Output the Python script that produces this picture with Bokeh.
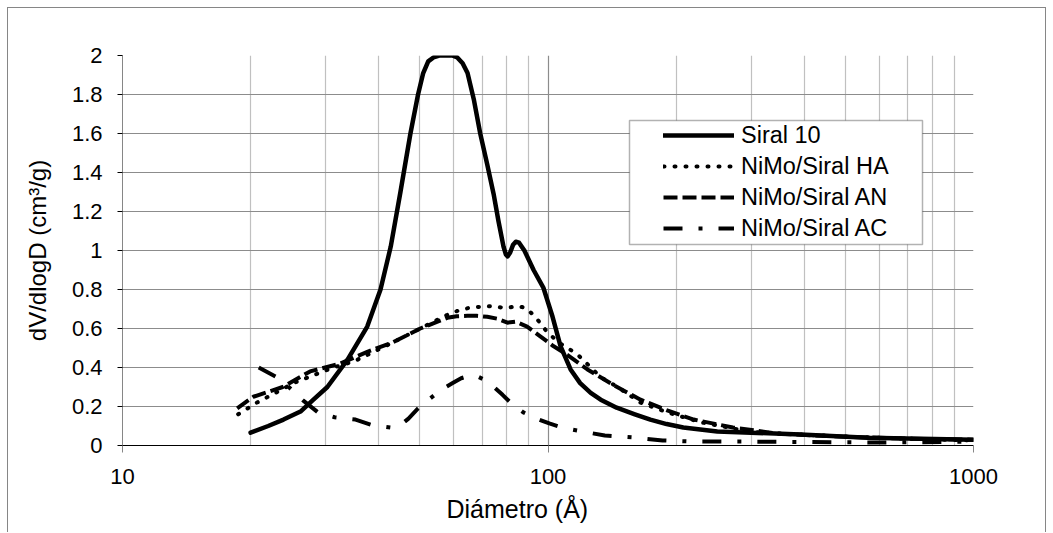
from bokeh.plotting import figure
from bokeh.models import FixedTicker, Legend, LegendItem, BoxAnnotation, Range1d, Title
from bokeh.embed import file_html
from bokeh.resources import INLINE

# ---- data ----
siral_d = [20, 22, 23.9, 26.2, 28.1, 30.3, 33.8, 37.6, 40.4, 42.7, 45, 47.5, 49.5, 50.9, 52.3,
           53.8, 55.5, 57.5, 59.5, 61.2, 63, 64.7, 67, 69.3, 72, 74.5, 76.5, 78.6, 79.6, 80.4,
           81.5, 82.8, 84, 85.5, 88, 92.5, 97.5, 102.5, 107, 113, 119, 126, 133, 145, 160,
           174, 190, 208, 250, 300, 392, 564, 1000]
siral_v = [0.066, 0.10, 0.133, 0.174, 0.235, 0.30, 0.44, 0.61, 0.80, 1.02, 1.30, 1.60, 1.80, 1.91, 1.97,
           1.99, 2.0, 2.0, 2.0, 1.99, 1.96, 1.91, 1.77, 1.60, 1.44, 1.29, 1.15, 1.02, 0.98, 0.97,
           0.99, 1.03, 1.045, 1.04, 1.0, 0.90, 0.81, 0.66, 0.51, 0.39, 0.32, 0.27, 0.235, 0.194, 0.16,
           0.133, 0.11, 0.092, 0.072, 0.066, 0.056, 0.04, 0.03]

ha_d = [18.7, 20.7, 22.9, 25.2, 28.1, 31.3, 34.9, 38.9, 43.3, 50.1, 55, 58, 61.2, 65, 68.2, 72,
        76, 80, 84.4, 87, 89.3, 93.3, 96.5, 99.7, 104, 108.9, 113, 117.5, 124.8, 133, 145.6, 165,
        190.6, 228, 299, 392, 500, 700, 1000]
ha_v = [0.16, 0.22, 0.27, 0.32, 0.36, 0.40, 0.43, 0.48, 0.53, 0.60, 0.645, 0.67, 0.69, 0.705, 0.71, 0.715,
        0.71, 0.705, 0.715, 0.71, 0.70, 0.66, 0.62, 0.58, 0.545, 0.51, 0.49, 0.465, 0.41, 0.35, 0.30, 0.22,
        0.17, 0.12, 0.07, 0.056, 0.046, 0.035, 0.026]

an_d = [18.6, 20.3, 23.8, 27.6, 32.5, 37.6, 43.3, 50.1, 55, 58, 61, 64.6, 68, 72, 76, 80.3, 84,
        89.3, 95.9, 102.9, 111, 123.8, 142.6, 165, 190.6, 220, 272, 350, 500, 700, 1000]
an_v = [0.19, 0.25, 0.30, 0.38, 0.42, 0.48, 0.53, 0.60, 0.635, 0.655, 0.663, 0.665, 0.665, 0.66, 0.65, 0.63, 0.635,
        0.61, 0.56, 0.51, 0.465, 0.39, 0.31, 0.235, 0.18, 0.133, 0.092, 0.06, 0.045, 0.035, 0.03]

ac_d = [20.9, 23.5, 26.6, 28.8, 31.5, 35.3, 38.5, 42.7, 45, 47, 49.5, 52.4, 56, 59.7, 62.5, 65.8,
        68.2, 72, 78.2, 82.5, 87.5, 93.5, 100.7, 108, 117, 136, 159, 186, 220, 288, 400, 600, 1000]
ac_v = [0.40, 0.34, 0.23, 0.17, 0.145, 0.133, 0.105, 0.092, 0.105, 0.138, 0.19, 0.235, 0.285, 0.32, 0.345, 0.36,
        0.355, 0.33, 0.26, 0.21, 0.17, 0.14, 0.113, 0.092, 0.077, 0.051, 0.041, 0.026, 0.02, 0.02, 0.018, 0.015, 0.02]

series_names = ["Siral 10", "NiMo/Siral HA", "NiMo/Siral AN", "NiMo/Siral AC"]

x_ticks = [10, 100, 1000]
x_tick_labels = ["10", "100", "1000"]
x_minor = [20, 30, 40, 50, 60, 70, 80, 90, 200, 300, 400, 500, 600, 700, 800, 900]
y_ticks = [0, 0.2, 0.4, 0.6, 0.8, 1.0, 1.2, 1.4, 1.6, 1.8, 2.0]
y_tick_labels = ["0", "0.2", "0.4", "0.6", "0.8", "1", "1.2", "1.4", "1.6", "1.8", "2"]
x_title = "Diámetro (Å)"
y_title = "dV/dlogD (cm³/g)"

FONT = "Liberation Sans"

p = figure(width=1039, height=525, x_axis_type="log",
           x_range=Range1d(10, 1000), y_range=Range1d(0, 2),
           output_backend="svg", toolbar_location=None,
           min_border_left=114, min_border_right=74, min_border_top=47, min_border_bottom=88)
p.margin = (7, 0, 0, 7)
p.styles = {"border-top": "1px solid #868686", "border-left": "1px solid #868686",
            "border-right": "1px solid #868686"}
p.outline_line_color = None
p.background_fill_color = "white"
p.border_fill_color = "white"

# legend box (drawn first so it lies under the legend)
box = BoxAnnotation(left=507, right=800, bottom=201, top=325,
                    left_units="screen", right_units="screen",
                    bottom_units="screen", top_units="screen",
                    fill_color="white", fill_alpha=1.0,
                    line_color="black", line_width=1.5)
p.add_layout(box)

# axes
xa = p.xaxis[0]
xa.ticker = FixedTicker(ticks=x_ticks, minor_ticks=x_minor)
xa.major_label_overrides = {t: l for t, l in zip(x_ticks, x_tick_labels)}
xa.axis_line_color = "black"
xa.major_tick_line_color = "#868686"
xa.major_tick_out = 7
xa.major_tick_in = 0
xa.minor_tick_line_color = None
xa.major_label_text_font = FONT
xa.major_label_text_font_size = "22px"
xa.major_label_text_color = "black"
xa.major_label_standoff = 16

# x-axis title, placed as in the reference (slightly left of the plot centre)
p.add_layout(Title(text=x_title, align="left", offset=324, standoff=12,
                   text_font=FONT, text_font_size="25px", text_font_style="normal",
                   text_color="black"), "below")

ya = p.yaxis[0]
ya.ticker = FixedTicker(ticks=y_ticks)
ya.major_label_overrides = {t: l for t, l in zip(y_ticks, y_tick_labels)}
ya.axis_line_color = "#868686"
ya.major_tick_line_color = "black"
ya.major_tick_out = 5
ya.major_tick_in = 0
ya.minor_tick_line_color = None
ya.major_label_text_font = FONT
ya.major_label_text_font_size = "22px"
ya.major_label_text_color = "black"
ya.major_label_standoff = 15
ya.axis_label = y_title
ya.axis_label_text_font = FONT
ya.axis_label_text_font_size = "24px"
ya.axis_label_text_font_style = "normal"
ya.axis_label_text_color = "black"
ya.axis_label_standoff = 18

# grids
p.xgrid.grid_line_color = "#8c8c8c"
p.xgrid.grid_line_width = 1.2
p.xgrid.minor_grid_line_color = "#c0c0c0"
p.xgrid.minor_grid_line_width = 1.2
p.ygrid.grid_line_color = "#8c8c8c"
p.ygrid.grid_line_width = 1.2

# lines
r1 = p.line(siral_d, siral_v, line_color="black", line_width=4.5, line_join="round", line_cap="round")
r2 = p.line(ha_d, ha_v, line_color="black", line_width=4, line_dash="1 10", line_cap="round", line_join="round")
r3 = p.line(an_d, an_v, line_color="black", line_width=4, line_dash="14 5", line_join="round")
r4 = p.line(ac_d, ac_v, line_color="black", line_width=4, line_dash="19 16 4 16", line_join="round")

legend = Legend(items=[LegendItem(label=n, renderers=[r]) for n, r in zip(series_names, [r1, r2, r3, r4])],
                location=(541, 203), padding=0, margin=0, spacing=3,
                glyph_width=71, glyph_height=28, label_height=28, label_standoff=7,
                label_text_font=FONT, label_text_font_size="23.5px", label_text_color="black",
                border_line_color=None, background_fill_alpha=0)
p.add_layout(legend, "center")

open("out.html", "w").write(file_html(p, INLINE))
